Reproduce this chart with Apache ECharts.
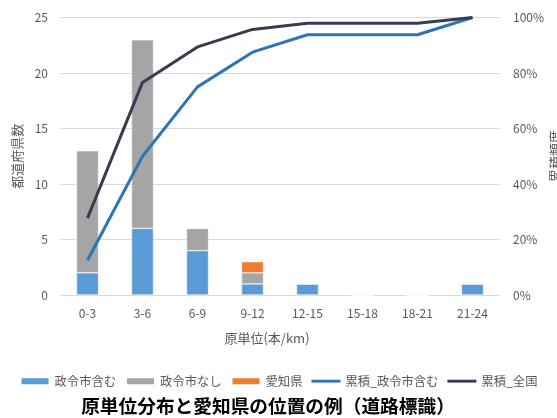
<!DOCTYPE html>
<html><head><meta charset="utf-8">
<script src="https://cdn.jsdelivr.net/npm/echarts@6/dist/echarts.min.js"></script>
<style>html,body{margin:0;padding:0;background:#fff}#c{width:557px;height:418px}</style>
</head><body><div id="c"></div>
<script>
var categories = ['0-3','3-6','6-9','9-12','12-15','15-18','18-21','21-24'];
var seireiFukumu = [2,6,4,1,1,0,0,1];
var seireiNashi = [11,17,2,1,0,0,0,0];
var aichi = [0,0,0,1,0,0,0,0];
var ruisekiSeirei = [12.5,50,75,87.5,93.8,93.8,93.8,100];
var ruisekiZenkoku = [27.7,76.6,89.4,95.7,97.9,97.9,97.9,100];
var leftTicks = [0,5,10,15,20,25];
var rightTicks = [0,20,40,60,80,100];

var font = '"Noto Sans CJK JP", "Noto Sans", sans-serif';
var lineIcon = 'path://M0,0 L30,0 L30,3 L0,3 Z';
var chart = echarts.init(document.getElementById('c'));
chart.setOption({
  animation:false,
  textStyle:{fontFamily:font},
  title:[{
    text:'原単位分布と愛知県の位置の例（道路標識）',
    left:263, top:392, textAlign:'center',
    textStyle:{fontSize:18.7,fontWeight:'bold',color:'#000',fontFamily:font}
  },{
    text:'原単位(本/km)',
    left:262, top:327, textAlign:'center',
    textStyle:{fontSize:13,fontWeight:'normal',color:'#595959',fontFamily:font}
  }],
  graphic:[{
    type:'text', x:549, y:156, rotation:Math.PI/2,
    style:{text:'累積頻度', textAlign:'center', textVerticalAlign:'top',
      fill:'#595959', fontSize:13, fontFamily:font}
  }],
  legend:{
    left:'center', top:370, itemGap:9, itemWidth:29, itemHeight:8,
    textStyle:{fontSize:12.3,color:'#595959',fontFamily:font},
    data:[
      {name:'政令市含む',icon:'rect'},
      {name:'政令市なし',icon:'rect'},
      {name:'愛知県',icon:'rect'},
      {name:'累積_政令市含む',icon:lineIcon},
      {name:'累積_全国',icon:lineIcon}
    ]
  },
  grid:{left:60,right:57,top:17.5,bottom:123},
  xAxis:{
    type:'category', data:categories,
    axisLine:{show:true,lineStyle:{color:'#d9d9d9'}},
    axisTick:{show:false},
    axisLabel:{color:'#595959',fontSize:12,margin:12}
  },
  yAxis:[{
    type:'value', min:leftTicks[0], max:leftTicks[leftTicks.length-1], interval:5,
    name:'都道府県数', nameLocation:'middle', nameGap:33, nameRotate:90,
    nameTextStyle:{color:'#595959',fontSize:13},
    axisLabel:{color:'#595959',fontSize:12,margin:12},
    splitLine:{lineStyle:{color:'#d9d9d9'}},
    axisLine:{show:false}, axisTick:{show:false}
  },{
    type:'value', min:rightTicks[0], max:rightTicks[rightTicks.length-1], interval:20,
    position:'right',
    axisLabel:{color:'#595959',fontSize:12,margin:13,formatter:'{value}%'},
    splitLine:{show:false},
    axisLine:{show:false}, axisTick:{show:false}
  }],
  series:[
    {name:'政令市含む',type:'bar',stack:'a',data:seireiFukumu,barWidth:22,
     itemStyle:{color:'#5b9bd5',borderColor:'#fff',borderWidth:0.5}},
    {name:'政令市なし',type:'bar',stack:'a',data:seireiNashi,barWidth:22,
     itemStyle:{color:'#a5a5a5',borderColor:'#fff',borderWidth:0.5}},
    {name:'愛知県',type:'bar',stack:'a',data:aichi,barWidth:22,
     itemStyle:{color:'#ed7d31',borderColor:'#fff',borderWidth:0.5}},
    {name:'累積_政令市含む',type:'line',yAxisIndex:1,data:ruisekiSeirei,
     symbol:'none',lineStyle:{color:'#2e75b6',width:3},itemStyle:{color:'#2e75b6'}},
    {name:'累積_全国',type:'line',yAxisIndex:1,data:ruisekiZenkoku,
     symbol:'none',lineStyle:{color:'#333f50',width:3},itemStyle:{color:'#333f50'}}
  ]
});
</script></body></html>
